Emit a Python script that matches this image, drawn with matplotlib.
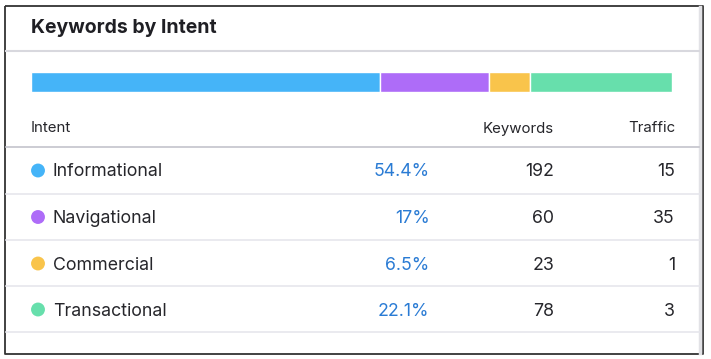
import matplotlib
matplotlib.use("Agg")
import matplotlib.pyplot as plt
import numpy as np

title = "Keywords by Intent"
intents = ["Informational", "Navigational", "Commercial", "Transactional"]
shares = [54.4, 17.0, 6.5, 22.1]
share_labels = ["54.4%", "17%", "6.5%", "22.1%"]
keywords = [192, 60, 23, 78]
traffic = [15, 35, 1, 3]
colors = ["#45b4f8", "#ae6cf8", "#f9c44b", "#67dfac"]
headers = ["Intent", "Keywords", "Traffic"]

W, H = 711, 359
plt.rcParams['font.family'] = ['Inter', 'DejaVu Sans']
fig = plt.figure(figsize=(W / 100, H / 100), dpi=100)
ax = fig.add_axes([0, 0, 1, 1])
ax.set_xlim(0, W)
ax.set_ylim(H, 0)
ax.axis("off")

txt = "#26262b"
# border
ax.plot([5, 703, 703, 5, 5], [6, 6, 354, 354, 6], color="#333333", lw=1.3, solid_capstyle="butt")
ax.plot([699.5, 699.5], [7, 353], color="#e2e2e6", lw=2.5)

ax.text(31, 28, title, fontsize=14, fontweight="bold", color="#1f1f24", va="center", ha="left")
ax.plot([6, 699], [51, 51], color="#d8d8de", lw=1.5)

# header
ax.text(31, 128.5, headers[0], fontsize=10.8, color=txt, va="center", ha="left")
ax.text(554, 128.5, headers[1], fontsize=10.8, color=txt, va="center", ha="right")
ax.text(675, 128.5, headers[2], fontsize=10.8, color=txt, va="center", ha="right")
ax.plot([6, 699], [147, 147], color="#c4c4cc", lw=1.2)

row_y = [172, 218.5, 265, 311]
sep_y = [193.5, 240, 286, 332]
for i, name in enumerate(intents):
    y = row_y[i]
    ax.scatter([38], [y - 1.5], s=100, color=colors[i], edgecolors="none", zorder=3)
    ax.text(53, y, name, fontsize=12.8, color=txt, va="center", ha="left")
    ax.text(429.5, y, share_labels[i], fontsize=12.8, color="#2a7bd4", va="center", ha="right")
    ax.text(554, y, str(keywords[i]), fontsize=12.8, color=txt, va="center", ha="right")
    ax.text(675, y, str(traffic[i]), fontsize=12.8, color=txt, va="center", ha="right")
    ax.plot([6, 699], [sep_y[i], sep_y[i]], color="#e6e6ec", lw=1.2)

# stacked bar
bx = fig.add_axes([31 / W, 1 - 91.5 / H, 641 / W, 19.5 / H])
bx.set_xlim(0, sum(shares))
bx.set_ylim(-0.5, 0.5)
bx.axis("off")
left = np.concatenate([[0], np.cumsum(shares)[:-1]])
bx.barh([0] * len(shares), shares, left=left, height=1.0, color=colors,
        edgecolor="white", linewidth=1.0)

fig.savefig("out.png", dpi=100)
